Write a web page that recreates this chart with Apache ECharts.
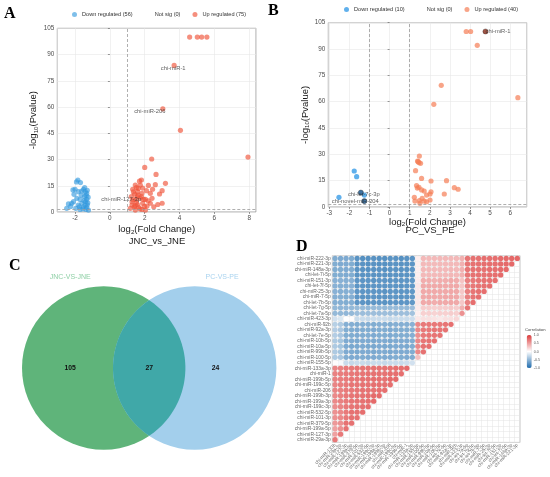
<!DOCTYPE html>
<html><head><meta charset="utf-8">
<script src="https://cdn.jsdelivr.net/npm/echarts@6/dist/echarts.min.js"></script>
<style>html,body{margin:0;padding:0;background:#fff}#c{width:550px;height:477px}</style>
</head><body><div id="c"></div>
<script>
// ---------- Panel A: JNC_vs_JNE volcano ----------
const upA = [[4.58,100],[5.02,100],[5.27,100],[5.57,100],[4.05,46.7],[7.93,31.4],
 [2.40,30.3],[2.00,25.5],[2.65,21.5],[1.81,18.3],[1.46,15.4],[1.75,15.4],[2.21,15.2],[2.61,15.6],[3.19,16.4],
 [1.63,13.5],[1.88,13.7],[1.31,13.0],[1.59,11.6],[1.84,10.7],[1.42,10.3],[2.32,10.7],[3.00,12.2],[1.56,8.8],
 [1.23,8.8],[1.75,7.8],[2.04,7.2],[2.42,7.8],[1.27,5.9],[1.52,5.5],[1.88,5.0],[2.32,5.0],[3.00,5.0],[1.40,3.0],
 [1.65,2.7],[2.13,3.4],[2.52,3.0],[1.17,2.1],[1.46,1.1],[1.84,1.5],[1.27,4.0],[2.04,1.1],[1.81,8.8],[1.50,7.2],
 [1.70,17.6],[1.35,11.5],[1.62,9.6],[2.10,12.2],[1.58,4.3],[2.20,6.4],[1.33,7.0],[1.52,14.0],[2.75,4.3],
 [2.45,13.0],[1.45,3.6],[1.72,1.8],[1.98,3.2],[2.85,10.3]];
const downA = [[-1.84,18.3],[-1.69,16.8],[-2.00,13.0],[-1.81,11.6],[-1.52,13.0],[-1.42,11.6],[-1.33,10.7],
 [-1.65,9.7],[-1.46,8.8],[-1.90,7.8],[-1.71,7.2],[-1.33,7.2],[-2.09,5.9],[-1.61,5.0],[-1.27,5.3],[-2.38,4.6],
 [-2.19,5.0],[-1.81,4.0],[-1.52,3.0],[-1.33,2.7],[-1.96,2.1],[-1.71,1.5],[-1.23,1.1],[-2.48,2.1],[-1.42,4.0],
 [-2.06,10.1],[-1.92,17.2],[-2.12,12.6],[-1.30,12.4],[-1.36,9.4],[-1.40,6.0],[-1.30,4.1],[-1.55,1.8],
 [-1.45,14.0],[-1.62,12.0],[-1.25,8.5],[-1.48,6.5],[-1.75,3.0],[-1.38,1.5],[-2.25,3.2]];
const labeledA = [{name:'chi-miR-1', value:[3.69,83.8]},{name:'chi-miR-206', value:[3.04,59.0]},{name:'chi-miR-127-3p', value:[1.94,7.2]}];
const legendA = ['Down regulated (56)','Not sig (0)','Up regulated (75)'];

// ---------- Panel B: PC_VS_PE volcano ----------
const upB = [[3.81,100],[4.03,100],[4.36,92.1],[2.57,69.3],[2.20,58.5],[6.38,62.3],
 [1.48,29.0],[1.39,26.2],[1.46,25.3],[1.54,24.9],[1.29,20.7],[1.59,16.3],[2.06,14.8],[2.83,15.0],[1.34,12.2],
 [1.46,11.2],[1.59,9.7],[1.72,9.1],[2.06,8.7],[2.01,7.4],[3.22,11.0],[3.41,10.1],[2.72,7.4],[1.23,5.5],
 [1.26,3.4],[1.84,6.8],[1.72,3.4],[1.51,2.1],[1.84,3.0],[2.01,4.0],[1.48,3.6],[1.62,4.9],[1.42,25.8],[1.38,10.8]];
const downB = [[-1.76,20.5],[-1.64,17.3],[-2.52,5.5],[-1.26,6.8]];
const labeledB = [{name:'chi-miR-1', value:[4.77,100]},{name:'chi-let-7c-3p', value:[-1.43,8.2]},{name:'chi-novel-miR-204', value:[-1.26,3.4]}];
const legendB = ['Down regulated (10)','Not sig (0)','Up regulated (40)'];

const fcThresholdA = [1], fcThresholdB = [-1, 1], pThreshold = 1.3;

// ---------- Panel C: Venn ----------
const vennSetNames = ['JNC-VS-JNE','PC-VS-PE'];
const vennCounts = [105, 27, 24]; // JNC only, shared, PC only

// ---------- Panel D: correlation ----------
const rowLabels = ['chi-miR-29a-3p','chi-miR-127-3p','chi-miR-199a-5p','chi-miR-379-5p','chi-miR-101-3p','chi-miR-532-5p',
 'chi-miR-199c-3p','chi-miR-199a-3p','chi-miR-199b-3p','chi-miR-206','chi-miR-199c-5p','chi-miR-199b-5p','chi-miR-1',
 'chi-miR-133a-3p','chi-miR-155-5p','chi-miR-100-5p','chi-miR-99b-5p','chi-miR-10a-5p','chi-miR-10b-5p','chi-let-7e-5p',
 'chi-miR-92a-3p','chi-miR-92b','chi-miR-423-3p','chi-let-7a-5p','chi-let-7g-5p','chi-let-7b-5p','chi-miR-7-5p',
 'chi-miR-25-3p','chi-let-7f-5p','chi-miR-151-3p','chi-let-7i-5p','chi-miR-148a-3p','chi-miR-221-3p','chi-miR-222-3p'];
const colLabels = ['chi-miR-133b','chi-miR-29a-3p','chi-miR-127-3p','chi-miR-199a-5p','chi-miR-379-5p','chi-miR-101-3p',
 'chi-miR-532-5p','chi-miR-199c-3p','chi-miR-199a-3p','chi-miR-199b-3p','chi-miR-206','chi-miR-199c-5p','chi-miR-199b-5p',
 'chi-miR-1','chi-miR-133a-3p','chi-miR-155-5p','chi-miR-100-5p','chi-miR-99b-5p','chi-miR-10a-5p','chi-miR-10b-5p',
 'chi-let-7e-5p','chi-miR-92a-3p','chi-miR-92b','chi-miR-423-3p','chi-let-7a-5p','chi-let-7g-5p','chi-let-7b-5p',
 'chi-miR-7-5p','chi-miR-25-3p','chi-let-7f-5p','chi-miR-151-3p','chi-let-7i-5p','chi-miR-148a-3p','chi-miR-221-3p'];
// row i (bottom to top) holds correlations with columns 1..i+1
const corrRows = [
 [0.85],
 [0.6,0.85],
 [0.6,0.7,0.9],
 [0.65,0.7,0.9,0.9],
 [0.7,0.75,0.85,0.9,0.9],
 [0.7,0.75,0.85,0.9,0.9,0.92],
 [0.72,0.78,0.85,0.88,0.9,0.9,0.92],
 [0.75,0.8,0.85,0.88,0.9,0.9,0.92,0.95],
 [0.75,0.8,0.86,0.88,0.9,0.9,0.92,0.95,0.95],
 [0.78,0.8,0.85,0.86,0.88,0.9,0.9,0.9,0.92,0.92],
 [0.78,0.82,0.85,0.88,0.88,0.9,0.9,0.92,0.92,0.9,0.92],
 [0.8,0.82,0.85,0.88,0.88,0.9,0.9,0.92,0.92,0.9,0.95,0.95],
 [0.8,0.82,0.85,0.86,0.88,0.88,0.9,0.9,0.9,0.9,0.92,0.92,0.92],
 [0.78,0.8,0.85,0.85,0.88,0.88,0.88,0.9,0.9,0.9,0.9,0.92,0.92,0.95],
 [0.02,-0.05,-0.3,-0.32,-0.3,-0.3,-0.32,-0.3,-0.3,-0.32,-0.3,-0.3,-0.3,-0.28,-0.25],
 [-0.45,-0.48,-0.7,-0.72,-0.72,-0.7,-0.72,-0.72,-0.7,-0.72,-0.72,-0.7,-0.7,-0.72,-0.7,0.4],
 [-0.45,-0.5,-0.72,-0.72,-0.74,-0.72,-0.72,-0.74,-0.72,-0.72,-0.74,-0.72,-0.72,-0.72,-0.7,0.75,0.9],
 [-0.45,-0.5,-0.72,-0.74,-0.74,-0.72,-0.74,-0.74,-0.72,-0.74,-0.74,-0.72,-0.72,-0.74,-0.7,0.75,0.9,0.92],
 [-0.45,-0.5,-0.72,-0.72,-0.74,-0.72,-0.72,-0.74,-0.72,-0.72,-0.74,-0.72,-0.72,-0.72,-0.7,0.75,0.88,0.9,0.92],
 [-0.42,-0.48,-0.7,-0.7,-0.72,-0.7,-0.7,-0.72,-0.7,-0.7,-0.72,-0.7,-0.7,-0.7,-0.68,0.7,0.85,0.88,0.88,0.9],
 [-0.42,-0.48,-0.7,-0.7,-0.72,-0.7,-0.7,-0.72,-0.7,-0.7,-0.72,-0.7,-0.7,-0.7,-0.68,0.75,0.85,0.86,0.88,0.88,0.9],
 [-0.4,-0.45,-0.68,-0.68,-0.7,-0.68,-0.68,-0.7,-0.68,-0.68,-0.7,-0.68,-0.68,-0.68,-0.66,0.75,0.85,0.85,0.86,0.86,0.88,0.92],
 [-0.25,-0.2,0.0,0.02,-0.3,-0.3,-0.32,-0.3,-0.3,-0.3,-0.32,-0.3,-0.3,-0.3,-0.28,0.15,0.2,0.2,0.18,0.15,0.2,0.2,0.25],
 [-0.6,-0.6,-0.62,-0.6,-0.55,-0.56,-0.55,-0.55,-0.56,-0.55,-0.55,-0.56,-0.55,-0.55,-0.52,0.1,0.3,0.3,0.28,0.3,0.3,0.32,0.3,0.7],
 [-0.6,-0.62,-0.62,-0.6,-0.58,-0.58,-0.6,-0.58,-0.58,-0.6,-0.58,-0.58,-0.58,-0.6,-0.55,0.12,0.32,0.32,0.3,0.32,0.32,0.34,0.32,0.5,0.88],
 [-0.68,-0.68,-0.7,-0.68,-0.9,-0.9,-0.92,-0.9,-0.9,-0.92,-0.9,-0.9,-0.9,-0.9,-0.88,0.15,0.55,0.55,0.52,0.55,0.55,0.56,0.55,0.35,0.8,0.92],
 [-0.68,-0.68,-0.7,-0.68,-0.9,-0.92,-0.92,-0.9,-0.92,-0.92,-0.9,-0.9,-0.92,-0.9,-0.88,0.15,0.55,0.56,0.55,0.55,0.56,0.56,0.55,0.35,0.8,0.88,0.92],
 [-0.66,-0.68,-0.68,-0.66,-0.9,-0.9,-0.9,-0.9,-0.9,-0.92,-0.9,-0.9,-0.9,-0.9,-0.88,0.15,0.55,0.55,0.55,0.55,0.55,0.56,0.55,0.35,0.8,0.88,0.9,0.92],
 [-0.66,-0.68,-0.68,-0.66,-0.9,-0.9,-0.92,-0.9,-0.9,-0.9,-0.9,-0.9,-0.92,-0.9,-0.88,0.15,0.55,0.55,0.55,0.56,0.55,0.55,0.55,0.35,0.8,0.86,0.88,0.9,0.92],
 [-0.66,-0.66,-0.68,-0.66,-0.9,-0.9,-0.9,-0.92,-0.9,-0.9,-0.92,-0.9,-0.9,-0.9,-0.88,0.12,0.52,0.52,0.5,0.52,0.52,0.55,0.52,0.38,0.8,0.86,0.88,0.9,0.9,0.92],
 [-0.7,-0.7,-0.72,-0.7,-0.92,-0.92,-0.92,-0.92,-0.92,-0.92,-0.92,-0.92,-0.92,-0.92,-0.9,0.1,0.45,0.45,0.45,0.45,0.45,0.46,0.45,0.5,0.88,0.9,0.9,0.9,0.92,0.92,0.95],
 [-0.7,-0.7,-0.72,-0.7,-0.92,-0.92,-0.94,-0.92,-0.92,-0.94,-0.92,-0.92,-0.92,-0.92,-0.9,0.1,0.45,0.45,0.44,0.45,0.45,0.46,0.45,0.5,0.88,0.9,0.9,0.9,0.92,0.92,0.94,0.95],
 [-0.7,-0.72,-0.72,-0.7,-0.92,-0.92,-0.94,-0.92,-0.94,-0.94,-0.92,-0.92,-0.92,-0.92,-0.9,0.1,0.45,0.44,0.44,0.45,0.45,0.45,0.45,0.5,0.88,0.9,0.9,0.92,0.92,0.92,0.94,0.95,0.96],
 [-0.7,-0.72,-0.72,-0.7,-0.92,-0.94,-0.94,-0.92,-0.94,-0.94,-0.92,-0.92,-0.94,-0.92,-0.9,0.1,0.45,0.44,0.44,0.45,0.45,0.45,0.45,0.5,0.88,0.9,0.9,0.92,0.92,0.92,0.94,0.95,0.96,0.97]
];
const colorbarTicks = [-1, -0.5, 0, 0.5, 1];

// ---------- styles ----------
const RED_A = 'rgba(240,84,58,0.82)', BLUE_A = 'rgba(50,152,222,0.78)';
const RED_B = 'rgba(245,125,85,0.88)', BLUE_B = 'rgba(35,145,228,0.9)';
const labelOffsets = {
  A: {'chi-miR-1':[-1,3.5], 'chi-miR-206':[-13,3], 'chi-miR-127-3p':[-22.5,0]},
  B: {'chi-miR-1':[12.5,0], 'chi-let-7c-3p':[3,1.5], 'chi-novel-miR-204':[-9,0.5]}
};
const hiliteB = {'chi-miR-1':'#8a2a18', 'chi-let-7c-3p':'#0f4f88', 'chi-novel-miR-204':'#0f4f88'};

const FONT = 'Liberation Sans';
const subRich = {
  a:{fontSize:9.5, color:'#1a1a1a', fontFamily:FONT},
  s:{fontSize:6.2, color:'#1a1a1a', fontFamily:FONT, padding:[5,0,0,0]}
};
function intLabel(v){ return Math.abs(v - Math.round(v)) < 1e-6 ? String(Math.round(v)) : ''; }

function volcanoAxes(gi, xmin, xmax, step, nameGapX, nameGapY){
  return {
    x: {type:'value', gridIndex:gi, min:xmin, max:xmax, minInterval:step, maxInterval:step,
        axisLine:{show:false}, axisTick:{show:true, length:2, lineStyle:{color:'#555', width:0.6}},
        axisLabel:{fontSize:6.4, color:'#4d4d4d', margin:3, showMinLabel:false, showMaxLabel:false, formatter:intLabel},
        splitLine:{show:true, lineStyle:{color:'#e8e8e8', width:0.6}},
        name:'{a|log}{s|2}{a|(Fold Change)}', nameLocation:'middle', nameGap:nameGapX,
        nameTextStyle:{rich:subRich}},
    y: {type:'value', gridIndex:gi, min:0, max:105, interval:15,
        axisLine:{show:false}, axisTick:{show:true, length:2, lineStyle:{color:'#555', width:0.6}},
        axisLabel:{fontSize:6.4, color:'#4d4d4d', margin:3},
        splitLine:{show:true, lineStyle:{color:'#e8e8e8', width:0.6}},
        name:'{a|-log}{s|10}{a|(Pvalue)}', nameLocation:'middle', nameGap:nameGapY, nameRotate:90,
        nameTextStyle:{rich:subRich}}
  };
}
const axA = volcanoAxes(0, -3.02, 8.39, 2, 12, 18);
const axB = volcanoAxes(1, -3.05, 6.82, 1, 8, 14);

function thresholdLines(fcList){
  return {silent:true, symbol:'none', label:{show:false},
    lineStyle:{color:'#9a9a9a', type:[3,2], width:0.8},
    data: fcList.map(v=>({xAxis:v})).concat([{yAxis:pThreshold}])};
}
function labeledData(list, panel, colorMap, baseColor){
  return list.map(d=>({name:d.name, value:d.value,
    itemStyle:{color: colorMap ? colorMap[d.name] : baseColor, borderColor: colorMap ? '#222' : 'transparent', borderWidth: colorMap?0.4:0},
    label:{show:true, position:'inside', offset:labelOffsets[panel][d.name]}}));
}

const heatData = [];
corrRows.forEach((row, r) => row.forEach((v, c) => heatData.push([c, r, v])));

const titleStyle = {fontFamily:'Liberation Serif', fontWeight:'bold', fontSize:16, color:'#000'};
const PT = 5.2;

const option = {
  animation:false,
  textStyle:{fontFamily:FONT},
  title:[
    {text:'A', left:4, top:6, padding:0, textStyle:titleStyle},
    {text:'B', left:268, top:3, padding:0, textStyle:titleStyle},
    {text:'C', left:9, top:258, padding:0, textStyle:titleStyle},
    {text:'D', left:296, top:239, padding:0, textStyle:titleStyle},
    {text:'JNC_vs_JNE', left:157, top:236, textAlign:'center', padding:0, textStyle:{fontSize:9.5, fontWeight:'normal', color:'#1a1a1a', fontFamily:FONT}},
    {text:'PC_VS_PE', left:430, top:225, textAlign:'center', padding:0, textStyle:{fontSize:9.5, fontWeight:'normal', color:'#1a1a1a', fontFamily:FONT}},
    {text:'Correlation', left:525, top:327.5, padding:0, textStyle:{fontSize:4.2, fontWeight:'normal', color:'#444', fontFamily:FONT}}
  ],
  legend:[
    {data:legendA, left:72, top:11.5, itemWidth:5, itemHeight:5, itemGap:12, icon:'circle', padding:0,
     textStyle:{fontSize:5.6, color:'#333'}, selectedMode:false},
    {data:legendB, left:344, top:6.5, itemWidth:5, itemHeight:5, itemGap:12, icon:'circle', padding:0,
     textStyle:{fontSize:5.6, color:'#333'}, selectedMode:false}
  ],
  grid:[
    {left:57.3, top:28.3, width:198.7, height:183.7, show:true, borderColor:'#8c8c8c', borderWidth:0.8, backgroundColor:'#fff'},
    {left:328.3, top:22.7, width:198.4, height:184.3, show:true, borderColor:'#8c8c8c', borderWidth:0.8, backgroundColor:'#fff'},
    {left:22, top:286.3, width:254.4, height:163.4},
    {left:332.3, top:255.7, width:187.7, height:186.7, show:true, borderColor:'#a0a0a0', borderWidth:0.6},
    {left:526.7, top:335, width:5, height:33}
  ],
  xAxis:[axA.x, axB.x,
    {type:'value', gridIndex:2, min:-1, max:2.114, show:false},
    {type:'category', gridIndex:3, data:colLabels, boundaryGap:true,
     axisLine:{show:false}, axisTick:{show:false},
     axisLabel:{interval:0, rotate:45, fontSize:4.6, color:'#666', margin:2},
     splitLine:{show:true, interval:0, lineStyle:{color:'#e3e3e3', width:0.5}}},
    {type:'value', gridIndex:4, show:false, min:0, max:1}
  ],
  yAxis:[axA.y, axB.y,
    {type:'value', gridIndex:2, min:-1, max:1, show:false},
    {type:'category', gridIndex:3, data:rowLabels, boundaryGap:true,
     axisLine:{show:false}, axisTick:{show:false},
     axisLabel:{interval:0, fontSize:4.9, color:'#666', margin:1.5},
     splitLine:{show:true, interval:0, lineStyle:{color:'#e3e3e3', width:0.5}}},
    {type:'value', gridIndex:4, min:colorbarTicks[0], max:colorbarTicks[colorbarTicks.length-1], interval:0.5, position:'right',
     axisLine:{show:false}, axisTick:{show:false}, splitLine:{show:false},
     axisLabel:{fontSize:3.6, color:'#555', margin:2, formatter:v=>v.toFixed(1)}}
  ],
  visualMap:{type:'continuous', seriesIndex:9, dimension:2, min:-1, max:1, calculable:false,
    inRange:{color:['#1f6cae','#ffffff','#dd3b3b']}, left:526.7, top:335, itemWidth:5, itemHeight:33,
    padding:0, text:null, orient:'vertical', hoverLink:false},
  series:[
    {name:legendA[0], type:'scatter', xAxisIndex:0, yAxisIndex:0, data:downA, symbolSize:PT, itemStyle:{color:BLUE_A}},
    {name:legendA[1], type:'scatter', xAxisIndex:0, yAxisIndex:0, data:[], itemStyle:{color:'rgba(0,0,0,0)'}},
    {name:legendA[2], type:'scatter', xAxisIndex:0, yAxisIndex:0, data:upA, symbolSize:PT, itemStyle:{color:RED_A},
     markLine:thresholdLines(fcThresholdA)},
    {name:'labelsA', type:'scatter', xAxisIndex:0, yAxisIndex:0, symbolSize:PT,
     data:labeledData(labeledA,'A',null,RED_A),
     label:{formatter:'{b}', fontSize:5.8, color:'#333', fontFamily:FONT}},
    {name:legendB[0], type:'scatter', xAxisIndex:1, yAxisIndex:1, data:downB, symbolSize:PT, itemStyle:{color:BLUE_B}},
    {name:legendB[1], type:'scatter', xAxisIndex:1, yAxisIndex:1, data:[], itemStyle:{color:'rgba(0,0,0,0)'}},
    {name:legendB[2], type:'scatter', xAxisIndex:1, yAxisIndex:1, data:upB, symbolSize:PT, itemStyle:{color:RED_B},
     markLine:thresholdLines(fcThresholdB)},
    {name:'labelsB', type:'scatter', xAxisIndex:1, yAxisIndex:1, symbolSize:PT,
     data:labeledData(labeledB,'B',hiliteB,null),
     label:{formatter:'{b}', fontSize:5.8, color:'#333', fontFamily:FONT}},
    {name:'venn', type:'custom', xAxisIndex:2, yAxisIndex:2, clip:false, silent:true,
     data:[[0,0]],
     renderItem:function(params, api){
       const gap = 1.114;
       const p1 = api.coord([0,0]), p2 = api.coord([gap,0]);
       const R = api.size([1,1])[0];
       const y = p1[1];
       const d = p2[0]-p1[0];
       const alpha = Math.acos(d/2/R);
       const pts = [];
       const N = 60;
       for(let i=0;i<=N;i++){ const t=-alpha+2*alpha*i/N; pts.push([p1[0]+R*Math.cos(t), y+R*Math.sin(t)]); }
       for(let i=0;i<=N;i++){ const t=Math.PI-alpha+2*alpha*i/N; pts.push([p2[0]+R*Math.cos(t), y+R*Math.sin(t)]); }
       const numX = [-0.41, gap/2, 1.37], setX = [-0.41, 1.45], setY = 1.11;
       const setColors = ['#8fd0a6','#a9d3ef'];
       const children = [
         {type:'circle', shape:{cx:p1[0], cy:y, r:R}, style:{fill:'#5fb47a'}},
         {type:'circle', shape:{cx:p2[0], cy:y, r:R}, style:{fill:'#a3cfec'}},
         {type:'polygon', shape:{points:pts}, style:{fill:'#40a8a8'}}
       ];
       vennCounts.forEach((n,i)=>{
         const p = api.coord([numX[i],0]);
         children.push({type:'text', style:{text:String(n), x:p[0], y:p[1], fill:'#111', fontSize:6.8, fontWeight:'bold',
           fontFamily:FONT, align:'center', verticalAlign:'middle'}});
       });
       vennSetNames.forEach((s,i)=>{
         const p = api.coord([setX[i], setY]);
         children.push({type:'text', style:{text:s, x:p[0], y:p[1], fill:setColors[i], fontSize:7,
           fontFamily:FONT, align:'center', verticalAlign:'middle'}});
       });
       return {type:'group', children:children};
     }},
    {name:'corr', type:'scatter', xAxisIndex:3, yAxisIndex:3, data:heatData, symbolSize:5.3, silent:true}
  ]
};
const chart = echarts.init(document.getElementById('c'), null, {renderer:'canvas'});
chart.setOption(option);
</script></body></html>
